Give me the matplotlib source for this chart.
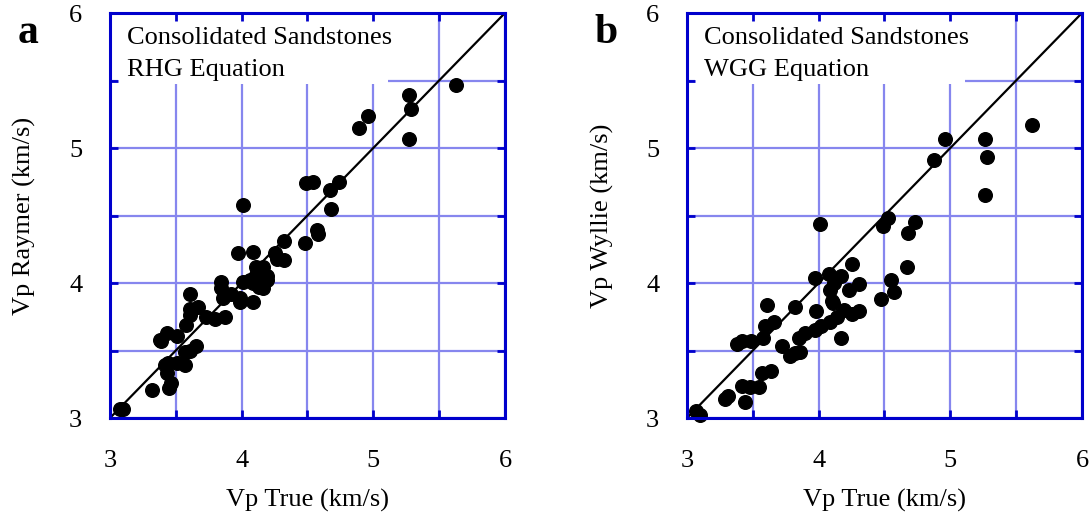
import numpy as np
import matplotlib
matplotlib.use("Agg")
import matplotlib.pyplot as plt
from matplotlib.patches import Rectangle

plt.rcParams["font.family"] = ["Liberation Serif", "DejaVu Serif"]

# panel a: Raymer (RHG) vs true Vp, km/s
a_true = [3.08, 3.10, 3.32, 3.45, 3.46, 3.43, 3.42, 3.44, 3.51, 3.57,
          3.57, 3.65, 3.61, 3.39, 3.43, 3.38, 3.51, 3.58, 3.61, 3.67,
          3.61, 3.61, 3.73, 3.80, 3.87, 3.84, 3.84, 3.86, 3.92, 3.97,
          3.99, 3.99, 4.09, 4.01, 4.06, 4.11, 4.11, 4.15, 4.19, 4.16,
          4.13, 4.09, 4.09, 4.25, 4.32, 4.27, 4.32, 4.48, 4.57, 4.58,
          4.68, 4.01, 4.49, 4.54, 4.67, 4.74, 4.89, 4.96, 5.27, 5.29,
          5.27, 5.63, 4.19, 4.14, 4.16]
a_rhg = [3.07, 3.07, 3.21, 3.22, 3.26, 3.33, 3.39, 3.41, 3.41, 3.39,
         3.49, 3.53, 3.50, 3.57, 3.63, 3.58, 3.61, 3.69, 3.76, 3.82,
         3.81, 3.92, 3.75, 3.73, 3.75, 4.01, 3.96, 3.89, 3.92, 4.22,
         3.89, 3.86, 3.86, 4.01, 4.02, 4.06, 4.12, 4.08, 4.05, 3.96,
         3.97, 4.00, 4.23, 4.22, 4.17, 4.18, 4.31, 4.30, 4.39, 4.36,
         4.55, 4.58, 4.74, 4.75, 4.69, 4.75, 5.15, 5.24, 5.39, 5.29,
         5.07, 5.47, 4.02, 4.02, 4.12]

# panel b: Wyllie (WGG) vs true Vp, km/s
b_true = [3.07, 3.10, 3.31, 3.44, 3.42, 3.48, 3.55, 3.57, 3.64, 3.38,
          3.42, 3.49, 3.58, 3.59, 3.66, 3.61, 3.72, 3.78, 3.82, 3.86,
          3.85, 3.90, 3.97, 3.82, 3.98, 4.02, 4.09, 4.14, 4.19, 4.25,
          4.31, 4.17, 3.97, 4.08, 4.17, 4.12, 4.09, 4.10, 4.11, 4.23,
          4.31, 4.25, 4.01, 4.47, 4.57, 4.55, 4.67, 4.49, 4.53, 4.68,
          4.73, 4.96, 4.88, 5.26, 5.28, 5.26, 5.62, 3.29]
b_wgg = [3.05, 3.02, 3.16, 3.12, 3.24, 3.23, 3.23, 3.33, 3.35, 3.55,
         3.57, 3.57, 3.59, 3.68, 3.71, 3.84, 3.53, 3.46, 3.48, 3.49,
         3.59, 3.63, 3.65, 3.82, 3.79, 3.68, 3.71, 3.75, 3.80, 3.77,
         3.79, 3.59, 4.04, 4.07, 4.05, 4.00, 3.95, 3.87, 3.85, 3.95,
         3.99, 4.14, 4.44, 3.88, 3.93, 4.02, 4.12, 4.42, 4.48, 4.37,
         4.45, 5.07, 4.91, 5.07, 4.93, 4.65, 5.17, 3.14]

panels = [
    ("a", a_true, a_rhg, "Vp Raymer (km/s)", "RHG Equation", 0.1007),
    ("b", b_true, b_wgg, "Vp Wyllie (km/s)", "WGG Equation", 0.6291),
]

SPINE = "#0000cc"
GRID = "#8686ee"
lims = (3, 6)
major = [3, 4, 5, 6]
minor = [3.5, 4.5, 5.5]

fig = plt.figure(figsize=(10.92, 5.16), dpi=100)

for letter, xs, ys, ylab, eq, left in panels:
    ax = fig.add_axes([left, 0.1899, 0.3617, 0.7849])
    ax.set_xlim(*lims)
    ax.set_ylim(*lims)

    # gridlines at every half unit, drawn by hand so the label box can hide them
    for v in major + minor:
        ax.axvline(v, color=GRID, lw=1.6, zorder=1)
        ax.axhline(v, color=GRID, lw=1.6, zorder=1)

    ax.add_patch(Rectangle((0.02, 0.825), 0.684, 0.175, transform=ax.transAxes,
                           facecolor="white", edgecolor="none", zorder=1.2))
    ax.text(0.043, 0.923, "Consolidated Sandstones", transform=ax.transAxes,
            fontsize=19, va="baseline", zorder=1.3)
    ax.text(0.043, 0.844, eq, transform=ax.transAxes,
            fontsize=19, va="baseline", zorder=1.3)

    ax.plot(lims, lims, color="black", lw=1.6, zorder=2)
    ax.plot(xs, ys, "o", color="black", ms=9.8, zorder=3, clip_on=False)

    ax.set_xticks(major)
    ax.set_yticks(major)
    ax.set_xticks(minor, minor=True)
    ax.set_yticks(minor, minor=True)
    ax.set_xticklabels([str(v) for v in major])
    ax.set_yticklabels([str(v) for v in major])
    ax.tick_params(which="both", direction="in", top=True, right=True,
                   color=SPINE, width=2, length=6, labelsize=19)
    ax.tick_params(axis="x", which="major", pad=23)
    ax.tick_params(axis="y", which="major", pad=20)
    for sp in ax.spines.values():
        sp.set_color(SPINE)
        sp.set_linewidth(2.2)
        sp.set_zorder(4)

    ax.set_xlabel("Vp True (km/s)", fontsize=19)
    ax.set_ylabel(ylab, fontsize=19)
    ax.xaxis.set_label_coords(0.5, -0.175)
    ax.yaxis.set_label_coords(-0.186, 0.5)

    fig.text(left - 0.085, 0.917, letter, fontsize=30, fontweight="bold",
             va="baseline")

fig.savefig("out.png", dpi=100)
